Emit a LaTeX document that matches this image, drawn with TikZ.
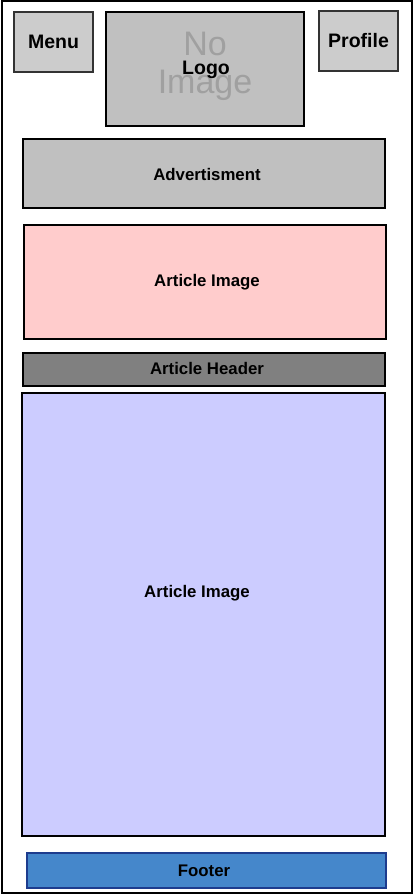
\documentclass[tikz,border=0pt]{standalone}
\usepackage{fontspec}
\setmainfont{Liberation Sans}
\definecolor{btngray}{HTML}{CCCCCC}
\definecolor{logogray}{HTML}{C0C0C0}
\definecolor{adgray}{HTML}{C0C0C0}
\definecolor{headgray}{HTML}{808080}
\definecolor{pinkfill}{HTML}{FFCCCC}
\definecolor{bluefill}{HTML}{CCCCFF}
\definecolor{footfill}{HTML}{4587CB}
\definecolor{footline}{HTML}{1D3C8E}
\definecolor{noimg}{HTML}{A0A0A0}
\begin{document}
\begin{tikzpicture}[x=1pt,y=-1pt,
  panel/.style={draw=black,line width=1.6pt,inner sep=0pt,
    font=\fontsize{16.8}{18}\selectfont\bfseries},
  btn/.style={panel,draw=black!80,fill=btngray,
    font=\fontsize{19.5}{21}\selectfont\bfseries},
  txt/.style={inner sep=0pt,font=\fontsize{16.8}{18}\selectfont\bfseries}]
\useasboundingbox (0,0) rectangle (414,896);
% page frame
\node[draw=black,line width=2pt,minimum width=410pt,minimum height=892pt,inner sep=0pt] (page) at (207,447) {};
% top bar
\node[btn,minimum width=79pt,minimum height=60pt] (menu) at (53.5,42) {Menu};
\node[panel,fill=logogray,minimum width=198pt,minimum height=114pt] (logo) at (205,69) {};
\node[inner sep=0pt,text=noimg,align=center,font=\fontsize{34}{38}\selectfont] (noimage) at (205,66.5) {No\\Image};
\node[inner sep=0pt,font=\fontsize{19.5}{21}\selectfont\bfseries] (logotext) at (206,70) {Logo};
\node[btn,minimum width=79pt,minimum height=60pt] (profile) at (358.5,41) {Profile};
% content blocks
\node[panel,fill=adgray,minimum width=362pt,minimum height=69pt] (ad) at (204,173.5) {};
\node[txt] (adtext) at (207,174) {Advertisment};
\node[panel,fill=pinkfill,minimum width=362pt,minimum height=114pt] (img1) at (205,282) {};
\node[txt] (img1text) at (207,282) {Article Image};
\node[panel,fill=headgray,minimum width=362pt,minimum height=33pt] (header) at (204,369.5) {};
\node[txt] (headertext) at (207,368) {Article Header};
\node[panel,fill=bluefill,minimum width=363pt,minimum height=443pt] (img2) at (203.5,614.5) {};
\node[txt] (img2text) at (197,593) {Article Image};
% footer
\node[panel,draw=footline,fill=footfill,minimum width=359pt,minimum height=35pt] (footer) at (206.5,870.5) {};
\node[txt] (footertext) at (204,871) {Footer};
\end{tikzpicture}
\end{document}
